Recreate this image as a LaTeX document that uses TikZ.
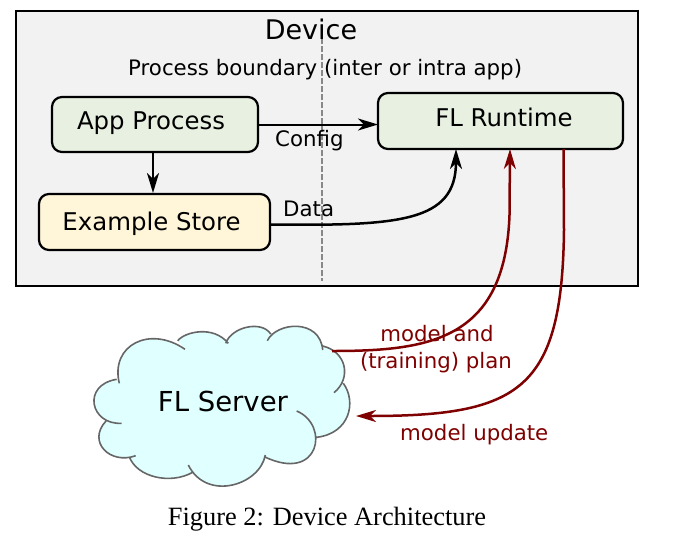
\documentclass[tikz,border=0pt]{standalone}
\usepackage{fontspec}
\setmainfont{DejaVu Sans}
\newfontfamily\captionfont{Liberation Serif}
\usetikzlibrary{arrows.meta}
\definecolor{devicegray}{HTML}{F2F2F2}
\definecolor{boxgreen}{HTML}{E8F1E1}
\definecolor{boxyellow}{HTML}{FFF6D9}
\definecolor{cloudcyan}{HTML}{E0FFFF}
\definecolor{darkred}{HTML}{7F0000}
\definecolor{cloudgray}{HTML}{666666}
\definecolor{dashgray}{HTML}{888888}
\tikzset{
    box/.style={draw, line width=2.2pt, rounded corners=10pt, outer sep=0pt,
    	font=\fontsize{24.4}{28}\selectfont, text height=17pt, text depth=6pt}
}
\tikzset{
    lbl/.style={anchor=base west, inner sep=0pt,
    	font=\fontsize{21.3}{24}\selectfont}
}
\tikzset{
    flow/.style={line width=2.5pt, -{Stealth[length=20pt,width=12pt,inset=6pt]}}
}
\newcommand{\cloudpuffs}[1]{
	(119.3,383.3) .. controls (110,345) and (150,325) .. (185,349.3) #1
	(177.7,340.7) .. controls (185,331.7) and (213.3,325) .. (228.3,343.3) #1
	(225.7,343.3) .. controls (231.7,326.7) and (261.7,320) .. (270.7,334) #1
	(267.3,340.7) .. controls (276.7,321.7) and (320,318.3) .. (322.7,350) #1
	(322.7,346) .. controls (346.7,351.7) and (351.7,378.3) .. (334,392.7) #1
	(343.3,383.3) .. controls (356.7,401.7) and (350,433.3) .. (316.7,437.3) #1
	(296.7,411) .. controls (330,425) and (320,483.3) .. (264.3,456.7) #1
	(265.3,455) .. controls (260,485) and (206.7,502) .. (188.3,465) #1
	(192.7,472.3) .. controls (170,485) and (136.7,477) .. (129.3,456.7) #1
	(135.7,455.7) .. controls (110,465) and (86.7,441.7) .. (106,421) #1
	(121.7,423.3) .. controls (90,425) and (81.7,385) .. (116.7,379.3)
}

\begin{document}
\begin{tikzpicture}[x=1pt,y=-1pt]
	\useasboundingbox (0,0) rectangle (685,539);
	\node (device) [draw, fill=devicegray, line width=2.4pt, minimum width=622pt,
		minimum height=275pt, outer sep=0pt] at (327,148.5) {};
	\coordinate (top) at (321.5,38);
	\coordinate (bottom) at (321.5,281);
	\draw [dashgray, line width=2pt, dash pattern=on 6pt off 2pt] (top) -- (bottom);

	\node (title) [lbl, anchor=base, font=\fontsize{27}{32}\selectfont] at (311,39) {Device};
	\node (boundary) [lbl] at (128,75) {Process boundary (inter or intra app)};
	\node (app) [box, fill=boxgreen, minimum width=206pt, minimum height=55pt, text height=15pt]
		at (155,124.5) {App Process\hspace{8pt}\mbox{}};
	\node (store) [box, fill=boxyellow, minimum width=231pt, minimum height=56pt, text height=23pt]
		at (154.5,222) {Example Store\hspace{6pt}\mbox{}};
	\node (runtime) [box, fill=boxgreen, minimum width=245pt, minimum height=56pt]
		at (500.5,121) {\hspace{7pt}FL Runtime};

	\fill [cloudcyan] \cloudpuffs{--} -- cycle;
	\draw [cloudgray, line width=1.6pt] \cloudpuffs{};
	\node (server) [lbl, anchor=base, font=\fontsize{27.5}{32}\selectfont] at (223,411) {FL Server};

	\coordinate (cloudout) at (332,351);
	\coordinate (cloudin) at (356,416);

	\draw [flow] (153,153) -- (153,193);
	\draw [flow, line width=2pt] (app.east) -- (app.east -| runtime.west);
	\draw [flow] ([yshift=-2.5pt]store.east) .. controls (400,226) and (456,222) .. ([xshift=-44.5pt]runtime.south);
	\draw [flow, darkred] (cloudout) .. controls (430,351) and (505,340) .. (509.5,215) -- ([xshift=9.5pt]runtime.south);
	\draw [flow, darkred] ([xshift=63pt]runtime.south) -- (564,230) .. controls (562,390) and (520,416) .. (cloudin);

	\node (config) [lbl] at (275,146) {Config};
	\node (data) [lbl] at (283,216) {Data};
	\node (plan1) [lbl, anchor=base, text=darkred] at (437,341) {model and};
	\node (plan2) [lbl, anchor=base, text=darkred] at (436,368) {(training) plan};
	\node (update) [lbl, text=darkred] at (400,440) {model update};
	\node (caption) [anchor=base, inner sep=0pt, font=\fontsize{26.4}{30}\captionfont\selectfont]
		at (327,525) {Figure 2: Device Architecture};
\end{tikzpicture}
\end{document}
